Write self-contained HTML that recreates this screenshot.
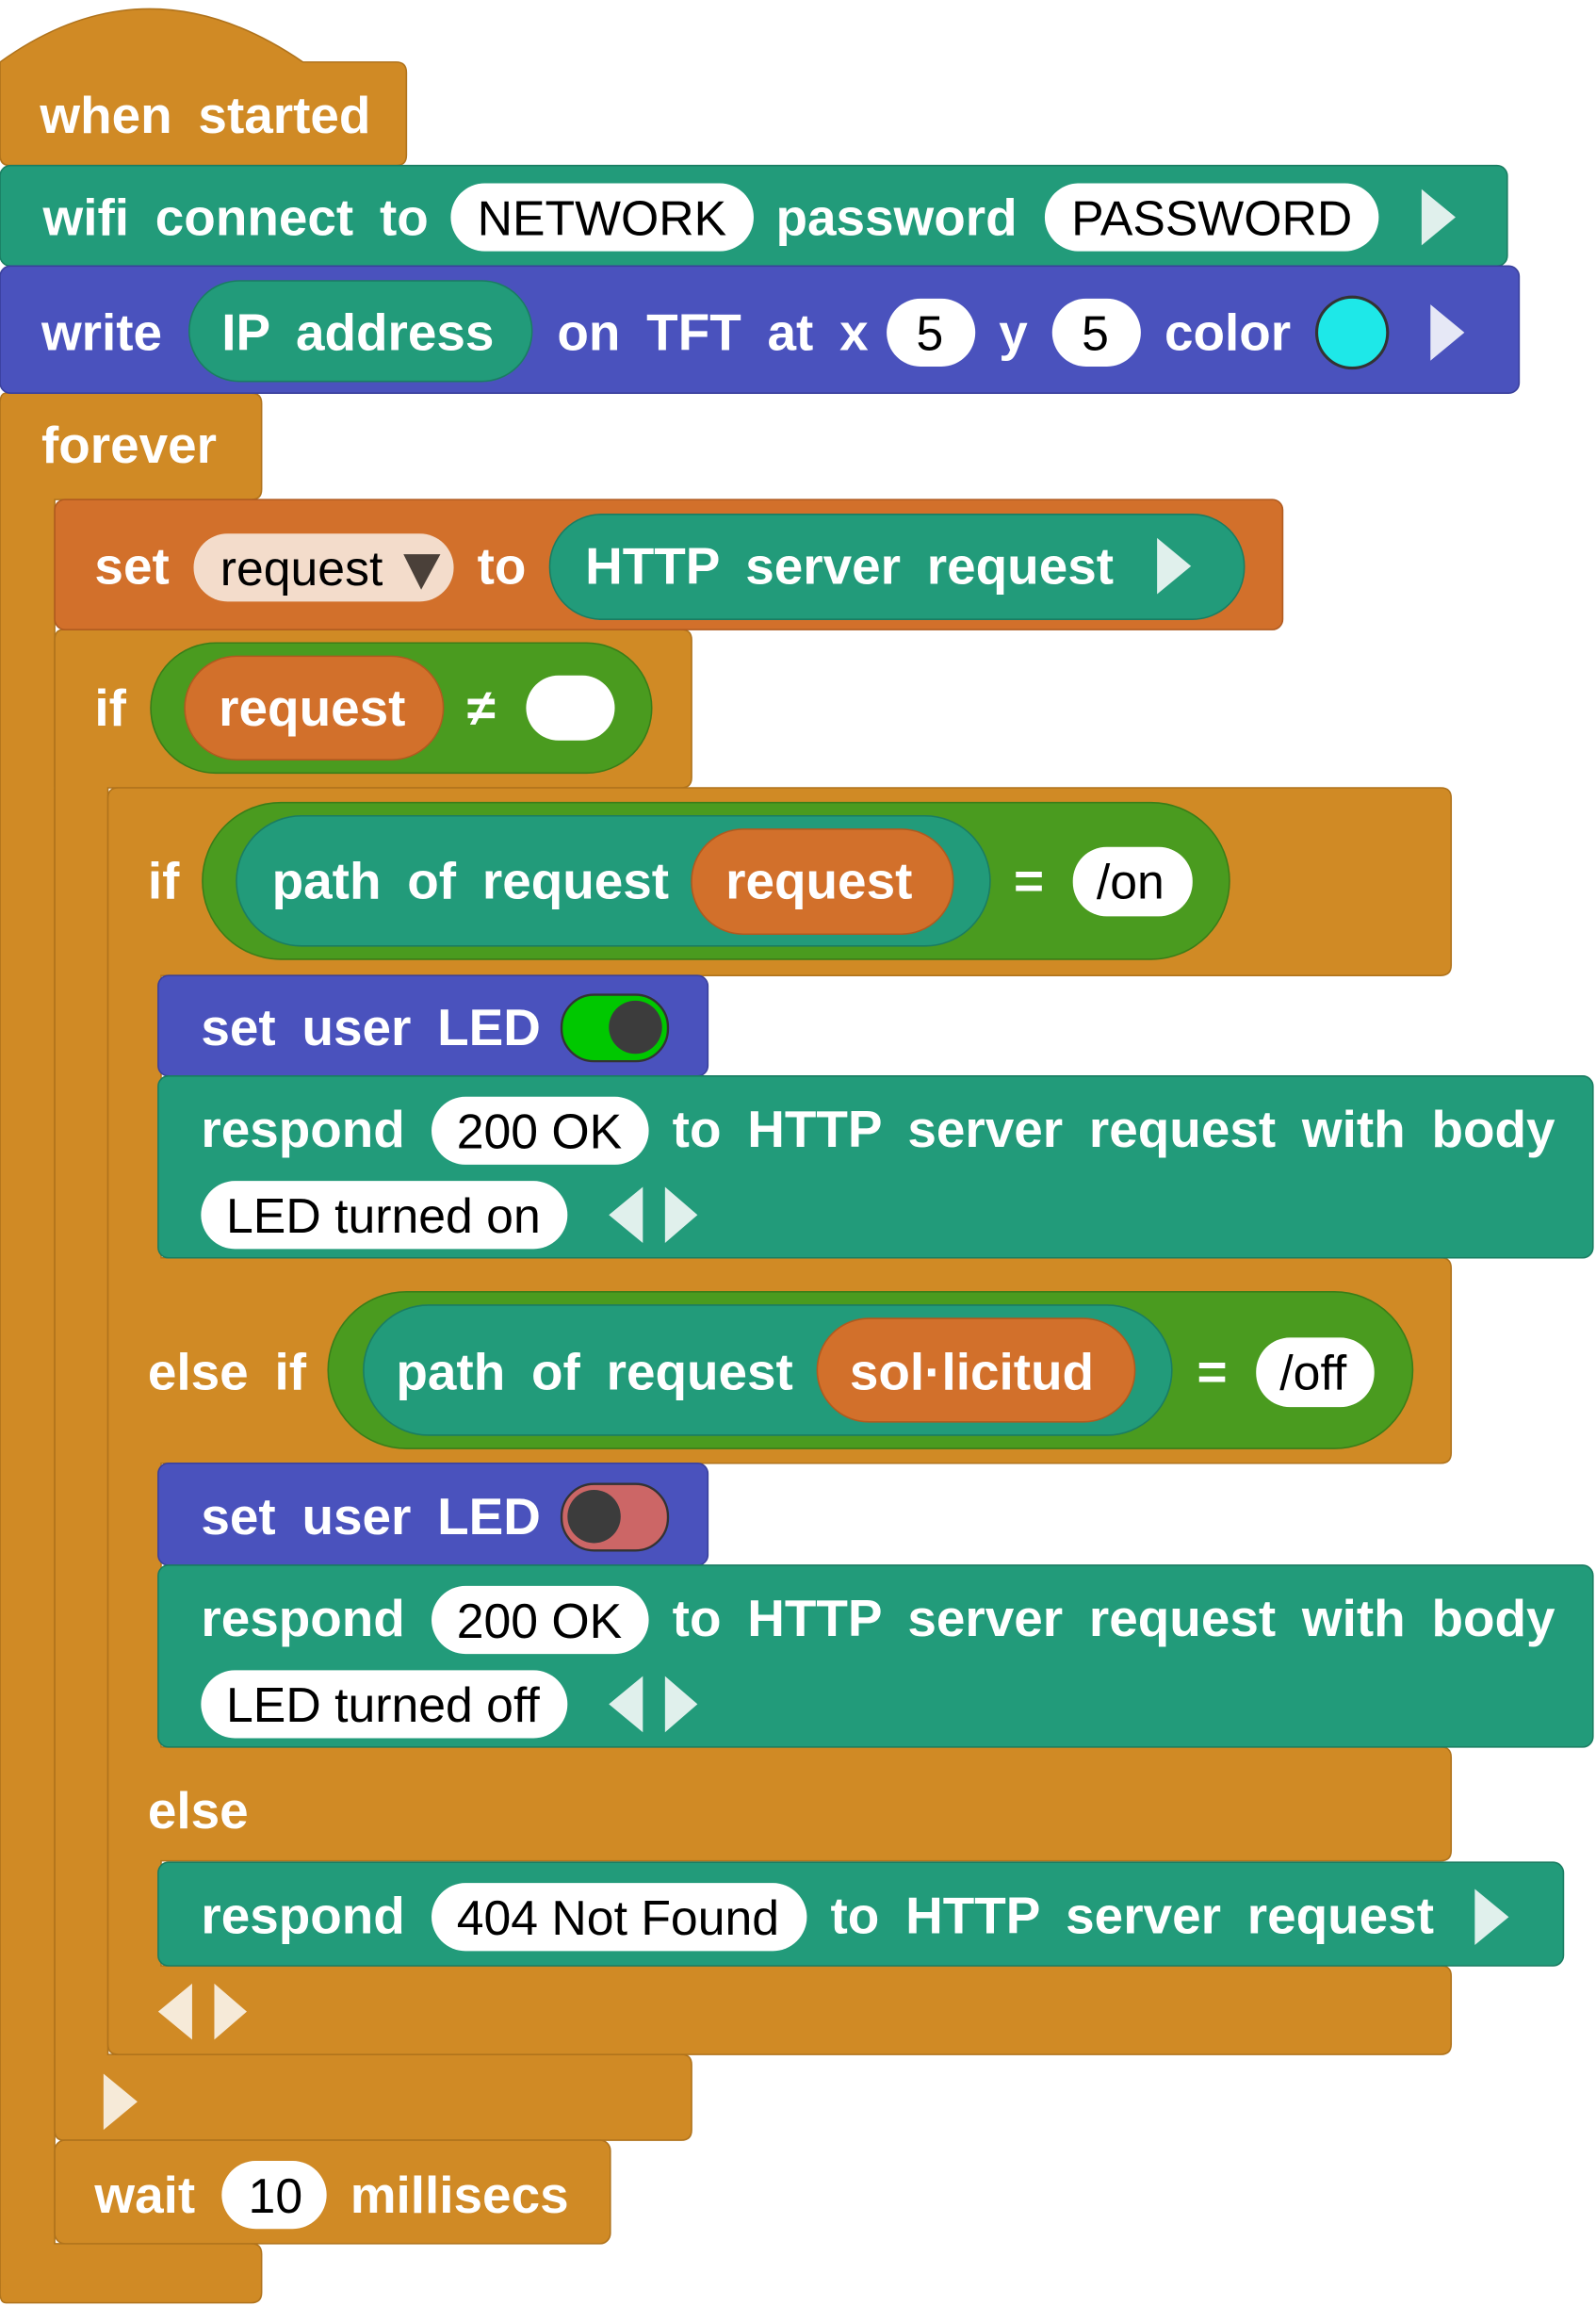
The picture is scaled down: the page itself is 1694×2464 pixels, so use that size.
<!DOCTYPE html>
<html><head><meta charset="utf-8"><style>
html,body{margin:0;padding:0;background:#fff;width:1694px;height:2464px;overflow:hidden}
svg{display:block}
.w{font-family:"Liberation Sans",sans-serif;font-weight:bold;font-size:35px;fill:#fff;word-spacing:8px}
.b{font-family:"Liberation Sans",sans-serif;font-size:33px;fill:#000}
</style></head><body>
<svg width="1694" height="2464" viewBox="0 0 1080 1571" xmlns="http://www.w3.org/2000/svg">
<g fill="#d08a25" stroke="#b0731c" stroke-width="1">
<path d="M4,266 H170 Q177,266 177,273 V331 Q177,338 170,338 H37 V1518 H170 Q177,1518 177,1525 V1551 Q177,1558 170,1558 H4 Q0,1558 0,1551 V273 Q0,266 4,266Z"/>
<path d="M0,42 Q100,-30 205,42 H268 Q275,42 275,49 V105 Q275,112 268,112 H7 Q0,112 0,105Z"/>
<path d="M43,426 H461 Q468,426 468,433 V526 Q468,533 461,533 H73 V1390 H461 Q468,1390 468,1397 V1441 Q468,1448 461,1448 H43 Q37,1448 37,1441 V433 Q37,426 43,426Z"/>
<path d="M80,533 H975 Q982,533 982,540 V653 Q982,660 975,660 H109 V851 H975 Q982,851 982,858 V983 Q982,990 975,990 H109 V1182 H975 Q982,1182 982,1189 V1252 Q982,1259 975,1259 H109 V1330 H975 Q982,1330 982,1337 V1383 Q982,1390 975,1390 H80 Q73,1390 73,1383 V540 Q73,533 80,533Z"/>
<rect x="37" y="1448" width="376" height="70" rx="7"/>
</g>
<rect x="0" y="112" width="1020" height="68" rx="7" fill="#229b7a" stroke="#1a7d62"/>
<rect x="0" y="180" width="1028" height="86" rx="7" fill="#4a52bd" stroke="#3a409c"/>
<rect x="37" y="338" width="831" height="88" rx="7" fill="#d2702b" stroke="#b05a1f"/>
<rect x="107" y="660" width="372" height="68" rx="7" fill="#4a52bd" stroke="#3a409c"/>
<rect x="107" y="990" width="372" height="69" rx="7" fill="#4a52bd" stroke="#3a409c"/>
<rect x="107" y="728" width="971" height="123" rx="7" fill="#229b7a" stroke="#1a7d62"/>
<rect x="107" y="1059" width="971" height="123" rx="7" fill="#229b7a" stroke="#1a7d62"/>
<rect x="107" y="1260" width="951" height="70" rx="7" fill="#229b7a" stroke="#1a7d62"/>

<text class="w" x="27" y="90">when started</text>
<text class="w" x="29" y="159">wifi connect to</text>
<rect x="305" y="124" width="205" height="46" rx="23" fill="#fff"/>
<text class="b" x="323" y="159">NETWORK</text>
<text class="w" x="525" y="159">password</text>
<rect x="707" y="124" width="226" height="46" rx="23" fill="#fff"/>
<text class="b" x="725" y="159">PASSWORD</text>
<path d="M962,128 L985,147 L962,166Z" fill="#e0f0ec"/>

<text class="w" x="28" y="237">write</text>
<rect x="128" y="190" width="232" height="68" rx="34" fill="#229b7a" stroke="#1a7d62"/>
<text class="w" x="150" y="237">IP address</text>
<text class="w" x="377" y="237">on TFT at x</text>
<rect x="600" y="202" width="60" height="46" rx="23" fill="#fff"/>
<text class="b" x="620" y="237">5</text>
<text class="w" x="676" y="237">y</text>
<rect x="712" y="202" width="60" height="46" rx="23" fill="#fff"/>
<text class="b" x="732" y="237">5</text>
<text class="w" x="788" y="237">color</text>
<circle cx="915" cy="225" r="24" fill="#1ee8e8" stroke="#333" stroke-width="2"/>
<path d="M968,206 L991,225 L968,244Z" fill="#e6e8f6"/>

<text class="w" x="28" y="313">forever</text>

<text class="w" x="64" y="395">set</text>
<rect x="131" y="361" width="176" height="46" rx="23" fill="#f3dccb"/>
<text class="b" x="149" y="396">request</text>
<path d="M273,375 L298,375 L285,399Z" fill="#4a4039"/>
<text class="w" x="323" y="395">to</text>
<rect x="372" y="348" width="470" height="71" rx="35" fill="#229b7a" stroke="#1a7d62"/>
<text class="w" x="396" y="395">HTTP server request</text>
<path d="M783,364 L806,383 L783,402Z" fill="#e0f0ec"/>

<text class="w" x="64" y="491">if</text>
<rect x="102" y="435" width="339" height="88" rx="44" fill="#4a9b1f" stroke="#3a7d18"/>
<rect x="125" y="444" width="175" height="70" rx="35" fill="#d2702b" stroke="#b05a1f"/>
<text class="w" x="148" y="491">request</text>
<text class="w" x="316" y="491">≠</text>
<rect x="356" y="457" width="60" height="44" rx="22" fill="#fff"/>

<text class="w" x="100" y="608">if</text>
<rect x="137" y="543" width="695" height="106" rx="53" fill="#4a9b1f" stroke="#3a7d18"/>
<rect x="160" y="552" width="510" height="88" rx="44" fill="#229b7a" stroke="#1a7d62"/>
<text class="w" x="184" y="608">path of request</text>
<rect x="468" y="561" width="177" height="71" rx="35" fill="#d2702b" stroke="#b05a1f"/>
<text class="w" x="491" y="608">request</text>
<text class="w" x="686" y="608">=</text>
<rect x="726" y="573" width="81" height="47" rx="23" fill="#fff"/>
<text class="b" x="742" y="608">/on</text>

<text class="w" x="136" y="707">set user LED</text>
<rect x="380" y="673" width="72" height="45" rx="22" fill="#00c800" stroke="#333" stroke-width="1.5"/>
<circle cx="430" cy="695" r="18" fill="#3c3c3c"/>

<text class="w" x="136" y="776">respond</text>
<rect x="292" y="742" width="147" height="46" rx="23" fill="#fff"/>
<text class="b" x="309" y="777">200 OK</text>
<text class="w" x="455" y="776">to HTTP server request with body</text>
<rect x="136" y="799" width="248" height="46" rx="23" fill="#fff"/>
<text class="b" x="153" y="834">LED turned on</text>
<path d="M435,803 L412,822 L435,841Z M450,803 L472,822 L450,841Z" fill="#e0f0ec"/>

<text class="w" x="100" y="940">else if</text>
<rect x="222" y="874" width="734" height="106" rx="53" fill="#4a9b1f" stroke="#3a7d18"/>
<rect x="246" y="883" width="547" height="88" rx="44" fill="#229b7a" stroke="#1a7d62"/>
<text class="w" x="268" y="940">path of request</text>
<rect x="553" y="892" width="215" height="70" rx="35" fill="#d2702b" stroke="#b05a1f"/>
<text class="w" x="575" y="940">sol·licitud</text>
<text class="w" x="810" y="940">=</text>
<rect x="850" y="905" width="80" height="47" rx="23" fill="#fff"/>
<text class="b" x="866" y="940">/off</text>

<text class="w" x="136" y="1038">set user LED</text>
<rect x="380" y="1004" width="72" height="45" rx="22" fill="#cc6666" stroke="#333" stroke-width="1.5"/>
<circle cx="402" cy="1026" r="18" fill="#3c3c3c"/>

<text class="w" x="136" y="1107">respond</text>
<rect x="292" y="1073" width="147" height="46" rx="23" fill="#fff"/>
<text class="b" x="309" y="1108">200 OK</text>
<text class="w" x="455" y="1107">to HTTP server request with body</text>
<rect x="136" y="1130" width="248" height="46" rx="23" fill="#fff"/>
<text class="b" x="153" y="1165">LED turned off</text>
<path d="M435,1134 L412,1153 L435,1172Z M450,1134 L472,1153 L450,1172Z" fill="#e0f0ec"/>

<text class="w" x="100" y="1237">else</text>

<text class="w" x="136" y="1308">respond</text>
<rect x="292" y="1274" width="254" height="46" rx="23" fill="#fff"/>
<text class="b" x="309" y="1309">404 Not Found</text>
<text class="w" x="562" y="1308">to HTTP server request</text>
<path d="M998,1278 L1021,1297 L998,1316Z" fill="#e0f0ec"/>

<path d="M130,1342 L107,1361 L130,1380Z M145,1342 L167,1361 L145,1380Z" fill="#f6ead8"/>
<path d="M70,1403 L93,1422 L70,1441Z" fill="#f6ead8"/>

<text class="w" x="64" y="1497">wait</text>
<rect x="150" y="1462" width="71" height="46" rx="23" fill="#fff"/>
<text class="b" x="168" y="1497">10</text>
<text class="w" x="237" y="1497">millisecs</text>
</svg>
</body></html>
